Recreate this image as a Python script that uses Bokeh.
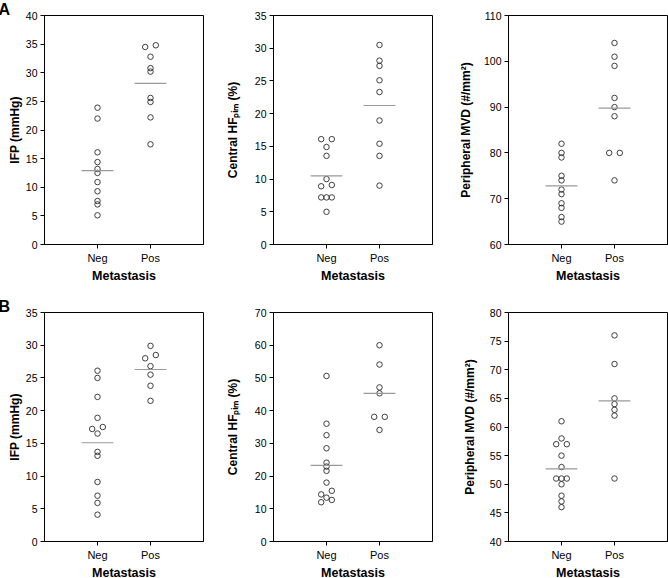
import numpy as np
from bokeh.plotting import figure
from bokeh.layouts import row, column
from bokeh.models import FixedTicker, Range1d, Title
from bokeh.embed import file_html
from bokeh.resources import INLINE

# ---------------- data ----------------
groups = ["Neg", "Pos"]
group_pos = [1, 2]
x_title = "Metastasis"

# Panel A: IFP (mmHg)
a_ifp_neg = [23.9, 22.0, 16.1, 14.4, 13.2, 12.5, 10.9, 9.3, 7.6, 7.0, 5.1]
a_ifp_neg_col = [0, 0, 0, 0, 0, 0, 0, 0, 0, 0, 0]
a_ifp_pos = [34.5, 34.8, 32.8, 30.8, 30.2, 25.6, 24.9, 22.2, 17.5]
a_ifp_pos_col = [-1, 1, 0, 0, 0, 0, 0, 0, 0]
a_ifp_ticks = [0, 5, 10, 15, 20, 25, 30, 35, 40]

# Panel A: Central HF Pim (%)
a_hf_neg = [16.1, 16.1, 14.9, 13.55, 10.0, 8.9, 9.1, 7.2, 7.2, 7.2, 5.0]
a_hf_neg_col = [-1, 1, 0, 0, 0, -1, 1, -1, 0, 1, 0]
a_hf_pos = [30.5, 28.1, 27.3, 25.1, 23.3, 18.95, 15.4, 13.55, 9.0]
a_hf_pos_col = [0, 0, 0, 0, 0, 0, 0, 0, 0]
a_hf_ticks = [0, 5, 10, 15, 20, 25, 30, 35]

# Panel A: Peripheral MVD (#/mm2)
a_mvd_neg = [82, 80, 79, 75, 74, 72, 71, 69, 68, 66, 65]
a_mvd_neg_col = [0, 0, 0, 0, 0, 0, 0, 0, 0, 0, 0]
a_mvd_pos = [104, 101, 99, 92, 90, 88, 80, 80, 74]
a_mvd_pos_col = [0, 0, 0, 0, 0, 0, -1, 1, 0]
a_mvd_ticks = [60, 70, 80, 90, 100, 110]

# Panel B: IFP (mmHg)
b_ifp_neg = [26.1, 25.0, 22.1, 18.9, 17.2, 17.5, 16.5, 13.7, 13.1, 9.1, 7.0, 5.9, 4.1]
b_ifp_neg_col = [0, 0, 0, 0, -1, 1, 0, 0, 0, 0, 0, 0, 0]
b_ifp_pos = [29.9, 28.0, 28.5, 26.8, 25.5, 23.8, 21.5]
b_ifp_pos_col = [0, -1, 1, 0, 0, 0, 0]
b_ifp_ticks = [0, 5, 10, 15, 20, 25, 30, 35]

# Panel B: Central HF Pim (%)
b_hf_neg = [50.6, 36.0, 32.5, 28.5, 24.1, 22.9, 21.6, 18.0, 15.5, 14.4, 13.4, 12.7, 12.0]
b_hf_neg_col = [0, 0, 0, 0, 0, 0, 0, 0, 1, -1, 0, 1, -1]
b_hf_pos = [60.0, 54.1, 47.1, 45.3, 38.1, 38.1, 34.1]
b_hf_pos_col = [0, 0, 0, 0, -1, 1, 0]
b_hf_ticks = [0, 10, 20, 30, 40, 50, 60, 70]

# Panel B: Peripheral MVD (#/mm2)
b_mvd_neg = [61, 58, 57, 57, 55, 53, 51, 51, 51, 50, 48, 47, 46]
b_mvd_neg_col = [0, 0, -1, 1, 0, 0, -1, 0, 1, 0, 0, 0, 0]
b_mvd_pos = [76, 71, 65, 64, 63, 62, 51]
b_mvd_pos_col = [0, 0, 0, 0, 0, 0, 0]
b_mvd_ticks = [40, 45, 50, 55, 60, 65, 70, 75, 80]

ifp_label = "IFP (mmHg)"
hf_label = "Central HF\u209a\u1d62\u2098 (%)"
mvd_label = "Peripheral MVD (#/mm\u00b2)"

FONT = "Liberation Sans"
JIT = 0.1
HALF = 0.3
FW, FH = 159, 229


def make_panel(neg, neg_col, pos, pos_col, ticks, ylabel, ystand, mb_left, mb_right,
               mb_top, mb_bottom, letter=None):
    p = figure(output_backend="svg", toolbar_location=None, frame_width=FW, frame_height=FH,
               x_range=Range1d(0, 3), y_range=Range1d(ticks[0], ticks[-1]),
               min_border_left=mb_left, min_border_right=mb_right,
               min_border_top=mb_top, min_border_bottom=mb_bottom,
               background_fill_color="white", border_fill_color="white")
    p.grid.visible = False
    p.outline_line_color = "black"
    p.outline_line_width = 1
    p.outline_line_alpha = 1

    for vals, cols, gx in ((neg, neg_col, group_pos[0]), (pos, pos_col, group_pos[1])):
        xs = [gx + c * JIT for c in cols]
        p.scatter(xs, vals, marker="circle", size=5.5, fill_alpha=0,
                  line_color="#2a2a2a", line_width=0.9)
        m = float(np.mean(vals))
        p.segment([gx - HALF], [m], [gx + HALF], [m], line_color="#9a9a9a", line_width=1.2)

    p.xaxis.ticker = FixedTicker(ticks=group_pos)
    p.xaxis.major_label_overrides = {group_pos[0]: groups[0], group_pos[1]: groups[1]}
    p.xaxis.axis_label = x_title
    p.xaxis.axis_label_standoff = 2
    p.xaxis.major_label_standoff = 3
    p.xaxis.major_label_text_font_size = "11px"
    p.xaxis.axis_label_text_font_size = "12.5px"

    p.yaxis.ticker = FixedTicker(ticks=ticks)
    p.yaxis.major_label_standoff = 3
    p.yaxis.major_label_text_font_size = "10.5px"
    p.yaxis.axis_label = ylabel
    p.yaxis.axis_label_standoff = ystand
    p.yaxis.axis_label_text_font_size = "12px"

    for ax in (p.xaxis[0], p.yaxis[0]):
        ax.major_label_text_font = FONT
        ax.major_label_text_color = "black"
        ax.axis_label_text_font = FONT
        ax.axis_label_text_font_style = "bold"
        ax.axis_label_text_color = "black"
        ax.axis_line_color = "black"
        ax.major_tick_line_color = "black"
        ax.major_tick_out = 4
        ax.major_tick_in = 0
        ax.minor_tick_line_color = None

    if letter:
        t = Title(text=letter, align="left", offset=-46, vertical_align="top",
                  standoff=-8, text_font=FONT, text_font_size="16px",
                  text_font_style="bold", text_color="black")
        p.add_layout(t, "above")
    return p


# row 1: canvas height 15 + 229 + 46 = 290 ; row 2: 22 + 229 + 36 = 287
p1 = make_panel(a_ifp_neg, a_ifp_neg_col, a_ifp_pos, a_ifp_pos_col, a_ifp_ticks, ifp_label,
                1, 44, 19, 15, 46, letter="A")
p2 = make_panel(a_hf_neg, a_hf_neg_col, a_hf_pos, a_hf_pos_col, a_hf_ticks, hf_label,
                12, 51, 23, 15, 46)
p3 = make_panel(a_mvd_neg, a_mvd_neg_col, a_mvd_pos, a_mvd_pos_col, a_mvd_ticks, mvd_label,
                8, 53, 1, 15, 46)

p4 = make_panel(b_ifp_neg, b_ifp_neg_col, b_ifp_pos, b_ifp_pos_col, b_ifp_ticks, ifp_label,
                1, 44, 19, 22, 36, letter="B")
p5 = make_panel(b_hf_neg, b_hf_neg_col, b_hf_pos, b_hf_pos_col, b_hf_ticks, hf_label,
                12, 51, 23, 22, 36)
p6 = make_panel(b_mvd_neg, b_mvd_neg_col, b_mvd_pos, b_mvd_pos_col, b_mvd_ticks, mvd_label,
                10, 53, 1, 22, 36)

layout = column(row(p1, p2, p3), row(p4, p5, p6))

with open("out.html", "w") as f:
    f.write(file_html(layout, INLINE))
